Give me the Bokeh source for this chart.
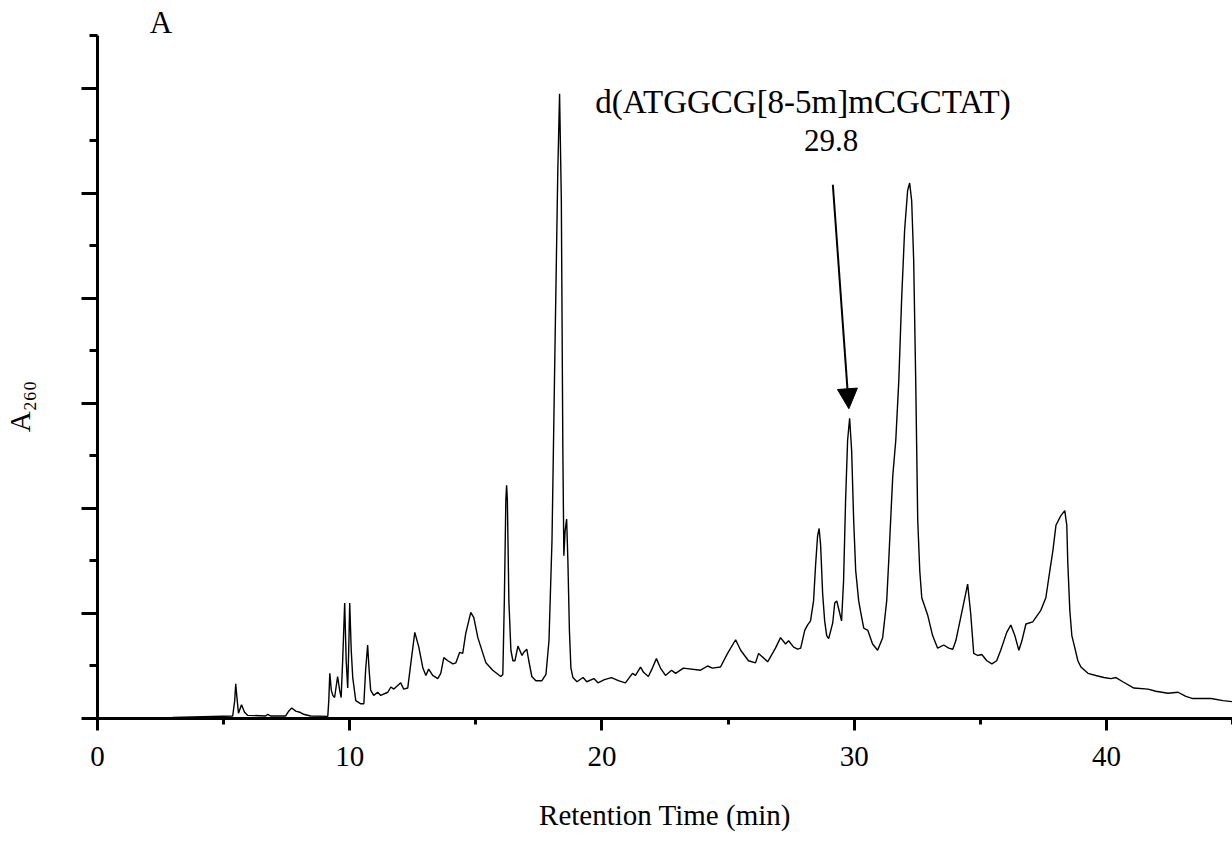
from bokeh.plotting import figure
from bokeh.models import Range1d, FixedTicker, Arrow, NormalHead
from bokeh.embed import file_html
from bokeh.resources import INLINE
from bokeh.core.properties import value

# Retention time (min) and A260
time = [0.00, 2.98, 5.36, 5.44, 5.48, 5.54, 5.59, 5.71, 5.83, 5.95, 6.67, 6.75, 6.86, 7.46, 7.58, 7.70,
        7.86, 8.02, 8.17, 8.45, 9.13, 9.17, 9.21, 9.27, 9.33, 9.40, 9.52, 9.60, 9.66, 9.72, 9.80, 9.86,
        9.92, 9.96, 10.00, 10.06, 10.12, 10.24, 10.44, 10.56, 10.63, 10.71, 10.77, 10.83, 10.95, 11.11,
        11.23, 11.51, 11.63, 11.75, 12.02, 12.14, 12.30, 12.42, 12.58, 12.74, 12.90, 13.02, 13.13, 13.29,
        13.49, 13.61, 13.73, 13.89, 14.09, 14.21, 14.36, 14.48, 14.60, 14.80, 14.92, 15.08, 15.20, 15.40,
        15.67, 15.99, 16.07, 16.13, 16.19, 16.22, 16.25, 16.31, 16.39, 16.47, 16.55, 16.67, 16.83, 16.90,
        17.02, 17.10, 17.22, 17.38, 17.62, 17.78, 17.90, 18.02, 18.13, 18.25, 18.32, 18.39, 18.45, 18.49,
        18.54, 18.60, 18.65, 18.71, 18.77, 18.85, 19.01, 19.25, 19.40, 19.68, 19.84, 20.10, 20.38, 20.65,
        20.93, 21.21, 21.33, 21.53, 21.65, 21.84, 22.00, 22.16, 22.32, 22.52, 22.76, 22.92, 23.23, 23.91,
        24.19, 24.38, 24.70, 24.98, 25.30, 25.50, 25.81, 26.09, 26.21, 26.57, 26.88, 27.08, 27.28, 27.40,
        27.60, 27.76, 27.88, 28.04, 28.15, 28.27, 28.39, 28.47, 28.55, 28.61, 28.67, 28.75, 28.83, 28.91,
        28.99, 29.15, 29.23, 29.31, 29.38, 29.50, 29.58, 29.66, 29.74, 29.82, 29.90, 29.98, 30.06, 30.18,
        30.26, 30.38, 30.54, 30.73, 30.93, 31.13, 31.29, 31.37, 31.53, 31.65, 31.77, 31.88, 32.00, 32.12,
        32.20, 32.28, 32.36, 32.44, 32.52, 32.60, 32.68, 32.92, 33.11, 33.31, 33.55, 33.75, 33.91, 34.03,
        34.31, 34.50, 34.62, 34.74, 34.90, 35.06, 35.26, 35.46, 35.65, 35.81, 36.05, 36.21, 36.37, 36.53,
        36.65, 36.81, 37.08, 37.40, 37.60, 37.76, 37.88, 38.00, 38.19, 38.35, 38.43, 38.47, 38.55, 38.63,
        38.71, 38.87, 38.99, 39.27, 39.58, 39.90, 40.18, 40.38, 40.65, 41.09, 41.65, 41.96, 42.44, 42.84,
        43.15, 43.43, 44.15, 44.62, 45.00]
a260 = [0.005, 0.01, 0.024, 0.17, 0.33, 0.17, 0.05, 0.13, 0.06, 0.03, 0.024, 0.04, 0.024, 0.024, 0.07, 0.10,
        0.07, 0.06, 0.04, 0.024, 0.02, 0.17, 0.43, 0.27, 0.22, 0.20, 0.40, 0.27, 0.20, 0.55, 1.10, 0.55,
        0.29, 0.65, 1.10, 0.65, 0.39, 0.17, 0.14, 0.14, 0.46, 0.70, 0.46, 0.27, 0.22, 0.25,
        0.22, 0.25, 0.30, 0.28, 0.34, 0.28, 0.29, 0.52, 0.82, 0.68, 0.48, 0.41, 0.47, 0.41,
        0.38, 0.43, 0.58, 0.55, 0.52, 0.53, 0.63, 0.62, 0.81, 1.01, 0.96, 0.77, 0.68, 0.53,
        0.46, 0.40, 0.42, 1.12, 2.08, 2.22, 2.08, 1.12, 0.65, 0.55, 0.55, 0.69, 0.60, 0.63,
        0.66, 0.55, 0.40, 0.36, 0.36, 0.42, 0.74, 1.70, 3.41, 5.22, 5.95, 4.93, 2.55, 1.55,
        1.79, 1.90, 1.50, 0.84, 0.48, 0.39, 0.35, 0.39, 0.35, 0.38, 0.34, 0.37, 0.39, 0.36,
        0.34, 0.43, 0.41, 0.49, 0.44, 0.40, 0.48, 0.57, 0.48, 0.41, 0.46, 0.43, 0.48, 0.46,
        0.50, 0.48, 0.49, 0.62, 0.75, 0.65, 0.55, 0.53, 0.62, 0.54, 0.67, 0.77, 0.71, 0.74,
        0.68, 0.66, 0.67, 0.84, 0.89, 0.93, 1.12, 1.46, 1.74, 1.81, 1.65, 1.19, 0.93, 0.79,
        0.76, 0.91, 1.10, 1.12, 1.05, 0.93, 1.31, 2.08, 2.65, 2.86, 2.55, 1.89, 1.41, 1.12,
        1.01, 0.86, 0.84, 0.71, 0.65, 0.77, 1.12, 1.50, 2.31, 2.65, 3.22, 3.98, 4.65, 5.03,
        5.10, 4.93, 4.36, 3.22, 1.89, 1.41, 1.15, 0.98, 0.79, 0.67, 0.70, 0.67, 0.66, 0.74,
        1.06, 1.28, 1.00, 0.62, 0.60, 0.61, 0.55, 0.52, 0.55, 0.65, 0.82, 0.89, 0.79, 0.65,
        0.74, 0.90, 0.92, 1.03, 1.15, 1.41, 1.60, 1.84, 1.93, 1.98, 1.84, 1.48, 1.03, 0.79,
        0.71, 0.55, 0.49, 0.43, 0.41, 0.39, 0.38, 0.39, 0.35, 0.29, 0.28, 0.26, 0.24, 0.25,
        0.21, 0.19, 0.19, 0.17, 0.16]

x_major = [0, 10, 20, 30, 40]
x_minor = [5, 15, 25, 35, 45]
y_major = [0, 1, 2, 3, 4, 5, 6]
y_minor = [0.5, 1.5, 2.5, 3.5, 4.5, 5.5, 6.5]

panel_label = "A"
peak_name = "d(ATGGCG[8-5m]mCGCTAT)"
peak_time = "29.8"
y_title = "A\u2082\u2086\u2080"
x_title = "Retention Time (min)"

FONT = "Liberation Serif"

p = figure(width=1232, height=856, output_backend="svg", toolbar_location=None,
           x_range=Range1d(0, 45), y_range=Range1d(0, 6.838),
           min_border=0, min_border_left=97, min_border_right=0,
           min_border_top=0, min_border_bottom=138)
p.outline_line_color = None
p.grid.visible = False
p.background_fill_color = "white"
p.border_fill_color = "white"

p.line(time, a260, line_color="black", line_width=1.4)

xa = p.xaxis[0]
xa.ticker = FixedTicker(ticks=x_major, minor_ticks=x_minor)
xa.bounds = (0, 45)
ya = p.yaxis[0]
ya.ticker = FixedTicker(ticks=y_major, minor_ticks=y_minor)
ya.bounds = (0, 6.5)
ya.major_label_overrides = {t: "" for t in y_major}

for ax in (xa, ya):
    ax.axis_line_width = 3
    ax.axis_line_color = "black"
    ax.major_tick_line_width = 3
    ax.minor_tick_line_width = 3
    ax.major_tick_line_color = "black"
    ax.minor_tick_line_color = "black"
    ax.major_tick_in = 0
    ax.minor_tick_in = 0
    ax.major_label_text_font = FONT
    ax.major_label_text_font_size = "29px"
    ax.major_label_text_color = "black"
    ax.axis_label_text_font = FONT
    ax.axis_label_text_font_size = "29px"
    ax.axis_label_text_font_style = "normal"
    ax.axis_label_text_color = "black"

xa.major_tick_out = 12
xa.minor_tick_out = 6
xa.major_label_standoff = 16
xa.axis_label = x_title
xa.axis_label_standoff = 30

ya.major_tick_out = 16
ya.minor_tick_out = 8
ya.major_label_standoff = 5
# trailing no-break spaces shift the centred title down toward the reference position
ya.axis_label = y_title + "\u00a0" * 13
ya.axis_label_standoff = 46

p.text(x=[2.52], y=[6.624], text=[panel_label], text_font=value(FONT),
       text_font_size=value("31px"), text_align="center", text_baseline="alphabetic",
       text_color="black")
p.text(x=[27.97], y=[5.867], text=[peak_name], text_font=value(FONT),
       text_font_size=value("33px"), text_align="center", text_baseline="alphabetic",
       text_color="black")
p.text(x=[29.09], y=[5.503], text=[peak_time], text_font=value(FONT),
       text_font_size=value("31px"), text_align="center", text_baseline="alphabetic",
       text_color="black")

p.add_layout(Arrow(x_start=29.155, y_start=5.083, x_end=29.79, y_end=2.95,
                   line_width=2, line_color="black",
                   end=NormalHead(size=20, fill_color="black", line_color="black", line_width=1)))

open("out.html", "w").write(file_html(p, INLINE))
